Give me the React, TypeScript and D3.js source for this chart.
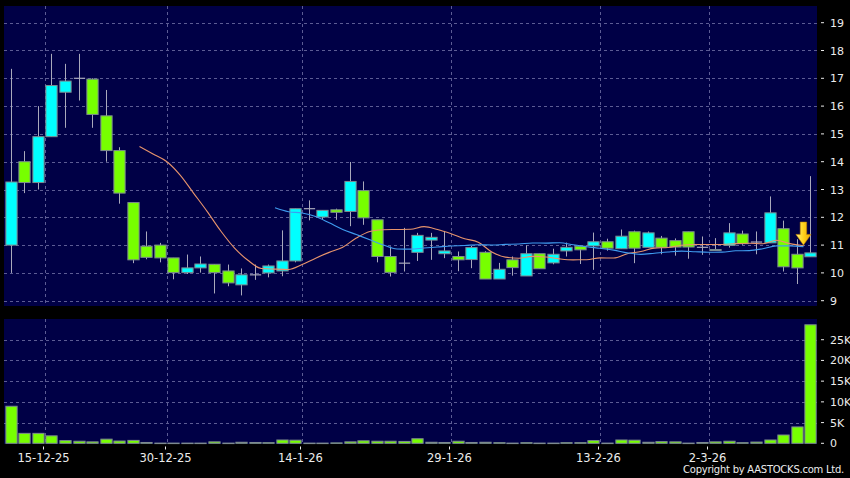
import React from "react";
import * as d3 from "d3";

// ---- Data ----
const opens = [11.0, 14.0, 13.25, 14.9, 16.5, 17.0, 16.97, 15.65, 14.4, 12.53,
  10.96, 11.0, 10.54, 10.01, 10.18, 10.31, 10.07, 9.57, 9.93, 10.0,
  10.07, 10.43, 12.31, 12.01, 12.27, 12.21, 12.96, 11.91, 10.59, 10.35,
  10.74, 11.18, 10.69, 10.59, 10.48, 10.74, 9.78, 10.47, 9.89, 10.69,
  10.36, 10.79, 10.96, 10.97, 11.12, 10.87, 11.48, 10.92, 11.25, 11.16,
  11.48, 10.92, 10.81, 10.99, 11.4, 11.11, 11.08, 11.59, 10.67, 10.58];
const highs = [17.34, 14.38, 16.0, 17.88, 17.52, 17.88, 17.0, 16.58, 14.52, 12.53,
  11.49, 11.08, 10.54, 10.66, 10.59, 10.31, 10.3, 10.16, 10.3, 10.3,
  11.53, 12.31, 12.61, 12.25, 12.31, 13.99, 13.29, 11.91, 10.95, 11.62,
  11.44, 11.44, 11.51, 10.77, 10.97, 10.78, 10.36, 10.59, 10.99, 10.69,
  10.87, 11.09, 10.96, 11.45, 11.23, 11.56, 11.52, 11.49, 11.33, 11.24,
  11.48, 11.31, 11.25, 11.79, 11.52, 11.49, 12.75, 11.88, 11.21, 13.48];
const lows = [10.0, 12.87, 13.0, 14.9, 15.22, 16.2, 15.22, 14.0, 12.49, 10.35,
  10.49, 10.38, 9.77, 9.96, 10.01, 9.26, 9.52, 9.19, 9.75, 9.84,
  9.88, 10.38, 11.89, 11.91, 11.91, 11.68, 11.73, 10.38, 9.87, 10.05,
  10.43, 10.47, 10.53, 10.06, 10.17, 9.78, 9.78, 9.9, 9.89, 10.15,
  10.31, 10.59, 10.32, 10.11, 10.8, 10.87, 10.35, 10.92, 10.67, 10.62,
  10.51, 10.65, 10.8, 10.91, 11.01, 10.67, 11.08, 10.05, 9.6, 10.58];
const closes = [13.27, 13.25, 14.9, 16.74, 16.9, 17.0, 15.7, 14.4, 12.87, 10.47,
  10.56, 10.54, 10.01, 10.18, 10.32, 10.01, 9.64, 9.93, 9.93, 10.25,
  10.43, 12.31, 12.31, 12.25, 12.18, 13.29, 11.98, 10.59, 10.02, 10.35,
  11.35, 11.28, 10.79, 10.47, 10.91, 9.78, 10.13, 10.19, 10.69, 10.15,
  10.67, 10.92, 10.83, 11.12, 10.89, 11.32, 10.89, 11.44, 10.92, 10.93,
  10.93, 10.92, 10.84, 11.44, 11.05, 11.11, 12.16, 10.22, 10.18, 10.72];
const volumes = [8940, 2400, 2400, 1800, 650, 500, 350, 1000, 550, 700,
  200, 50, 50, 50, 50, 350, 50, 250, 200, 150,
  800, 750, 50, 50, 100, 350, 600, 500, 500, 450,
  1100, 250, 200, 500, 200, 250, 150, 50, 150, 50,
  50, 150, 150, 650, 50, 800, 750, 250, 400, 350,
  50, 200, 350, 500, 150, 300, 800, 2000, 3950, 28600];

const dateTickIndex = [2, 11, 21, 32, 43, 51];
const dateTickLabels = ["15-12-25", "30-12-25", "14-1-26", "29-1-26", "13-2-26", "2-3-26"];
const priceTicks = [9, 10, 11, 12, 13, 14, 15, 16, 17, 18, 19];
const volumeTicks = [0, 5000, 10000, 15000, 20000, 25000];
const volumeTickLabels = ["0", "5K", "10K", "15K", "20K", "25K"];
const maPeriods = [10, 20];
const maColors = ["#e8946c", "#3f9cf0"];
const arrowIndex = 58;
const arrowValue = 11.0;

// ---- Styles ----
const W = 850, H = 478;
const BG = "#000000";
const PANEL = "#000046";
const GRID = "#5c5c94";
const UP = "#00ffff";
const DOWN = "#77ff00";
const BORDER = "#7d8a90";
const WICK = "#a9a9bb";
const TEXT = "#ececec";
const FONT = "DejaVu Sans, sans-serif";

export default function App() {
  const n = closes.length;
  const plotLeft = 4, plotRight = 817;
  const x = d3.scalePoint<number>().domain(d3.range(n)).range([plotLeft, plotRight]).padding(0.5);
  const step = x.step();
  const bodyW = step * 0.83;

  const mainTop = 6, mainBottom = 306;
  const y = d3.scaleLinear().domain([9, 19]).range([300.7, 22.7]);
  const volTop = 319, volBottom = 444;
  const yv = d3.scaleLinear().domain([0, 30000]).range([443.3, volTop]);

  const maSeries = maPeriods.map((p) =>
    d3.range(p - 1, n - 1).map((i) => ({ i, v: d3.mean(closes.slice(i - p + 1, i + 1)) as number }))
  );
  const maLine = d3.line<{ i: number; v: number }>()
    .x((d) => (x(d.i) as number) + step / 2)
    .y((d) => y(d.v))
    .curve(d3.curveMonotoneX);

  const gridX = dateTickIndex.map((i) => (x(i) as number) + step / 2);
  const axisX = plotRight + 3;

  const ax = (x(arrowIndex) as number) + step / 2;
  const ay = y(arrowValue);
  const arrowPath = `M${ax - 3.2},${ay - 23} L${ax + 3.2},${ay - 23} L${ax + 3.2},${ay - 10.7} L${ax + 7.5},${ay - 10.7} L${ax},${ay} L${ax - 7.5},${ay - 10.7} L${ax - 3.2},${ay - 10.7} Z`;

  return (
    <div style={{ position: "fixed", left: 0, top: 0, width: W, height: H, background: BG }}>
      <svg width={W} height={H} style={{ display: "block" }} fontFamily={FONT}>
        <defs>
          <linearGradient id="arrowGrad" x1="0" x2="1" y1="0" y2="0">
            <stop offset="0" stopColor="#fff27a" />
            <stop offset="0.5" stopColor="#ffd21c" />
            <stop offset="1" stopColor="#eaa300" />
          </linearGradient>
        </defs>
        <rect width={W} height={H} fill={BG} />
        {/* main panel */}
        <rect x={plotLeft} y={mainTop} width={plotRight - plotLeft} height={mainBottom - mainTop} fill={PANEL} />
        {priceTicks.map((t) => (
          <line key={"hg" + t} x1={plotLeft} x2={plotRight} y1={Math.round(y(t)) + 0.5} y2={Math.round(y(t)) + 0.5}
            stroke={GRID} strokeDasharray="3,3" />
        ))}
        {gridX.map((gx, k) => (
          <line key={"vg" + k} x1={Math.round(gx) + 0.5} x2={Math.round(gx) + 0.5} y1={mainTop} y2={mainBottom}
            stroke={GRID} strokeDasharray="3,3" />
        ))}
        {/* candles */}
        {closes.map((c, i) => {
          const cx = Math.round(x(i) as number) + 0.5;
          const o = opens[i];
          const up = c > o;
          const doji = Math.abs(c - o) < 0.005;
          const top = y(Math.max(o, c));
          const bot = y(Math.min(o, c));
          return (
            <g key={"c" + i}>
              <line x1={cx} x2={cx} y1={y(highs[i])} y2={y(lows[i])} stroke={WICK} strokeWidth={1} />
              {doji ? (
                <line x1={cx - bodyW / 2} x2={cx + bodyW / 2} y1={y(c)} y2={y(c)} stroke={WICK} strokeWidth={1.2} />
              ) : (
                <rect x={cx - bodyW / 2} y={top} width={bodyW} height={Math.max(1, bot - top)}
                  fill={up ? UP : DOWN} stroke={BORDER} strokeWidth={1} />
              )}
            </g>
          );
        })}
        {/* moving averages */}
        {maSeries.map((s, k) => (
          <path key={"ma" + k} d={maLine(s) as string} fill="none" stroke={maColors[k]} strokeWidth={1.1} />
        ))}
        {/* arrow marker */}
        <path d={arrowPath} fill="url(#arrowGrad)" stroke="#c98a00" strokeWidth={0.6} />
        {/* price axis */}
        {priceTicks.map((t) => (
          <g key={"pt" + t}>
            <line x1={axisX + 1} x2={axisX + 4} y1={y(t)} y2={y(t)} stroke={TEXT} />
            <text x={axisX + 10} y={y(t) + 4} fill={TEXT} fontSize={11}>{t}</text>
          </g>
        ))}

        {/* volume panel */}
        <rect x={plotLeft} y={volTop} width={plotRight - plotLeft} height={volBottom - volTop} fill={PANEL} />
        {volumeTicks.slice(1).map((t) => (
          <line key={"vh" + t} x1={plotLeft} x2={plotRight} y1={Math.round(yv(t)) + 0.5} y2={Math.round(yv(t)) + 0.5}
            stroke={GRID} strokeDasharray="3,3" />
        ))}
        {gridX.map((gx, k) => (
          <line key={"vvg" + k} x1={Math.round(gx) + 0.5} x2={Math.round(gx) + 0.5} y1={volTop} y2={volBottom}
            stroke={GRID} strokeDasharray="3,3" />
        ))}
        {volumes.map((v, i) => {
          const cx = Math.round(x(i) as number) + 0.5;
          const top = yv(v);
          return (
            <rect key={"v" + i} x={cx - bodyW / 2} y={top} width={bodyW} height={Math.max(0.5, yv(0) - top)}
              fill={DOWN} stroke={BORDER} strokeWidth={1} />
          );
        })}
        {volumeTicks.map((t, k) => (
          <g key={"vt" + t}>
            <line x1={axisX + 1} x2={axisX + 4} y1={yv(t)} y2={yv(t)} stroke={TEXT} />
            <text x={axisX + 10} y={yv(t) + 4} fill={TEXT} fontSize={11}>{volumeTickLabels[k]}</text>
          </g>
        ))}

        {/* date axis */}
        {dateTickIndex.map((idx, k) => {
          const tx = Math.round(gridX[k]) - 1.5;
          return (
            <g key={"dt" + k}>
              <line x1={tx} x2={tx} y1={446.5} y2={449.5} stroke={TEXT} />
              <text x={tx} y={462} fill={TEXT} fontSize={11.5} textAnchor="middle">{dateTickLabels[k]}</text>
            </g>
          );
        })}
        <text x={844} y={473} fill={TEXT} fontSize={10} letterSpacing={-0.25} textAnchor="end">
          Copyright by AASTOCKS.com Ltd.
        </text>
      </svg>
    </div>
  );
}
